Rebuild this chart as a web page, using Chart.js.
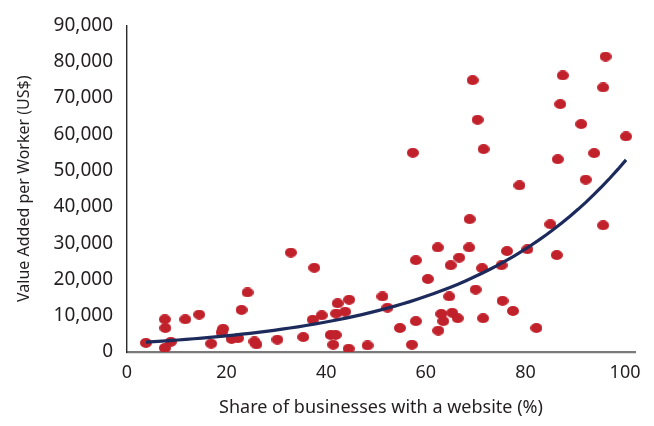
<!DOCTYPE html>
<html>
<head>
<meta charset="utf-8">
<script src="https://cdn.jsdelivr.net/npm/chart.js@4/dist/chart.umd.min.js"></script>
<style>
  html, body { margin: 0; padding: 0; background: #ffffff; }
  #wrap { width: 654px; height: 426px; position: relative; }
</style>
</head>
<body>
<div id="wrap"><canvas id="c" width="654" height="426"></canvas></div>
<script>
// Share of businesses with a website (%)
const websiteShare = [
  3.8, 7.6, 7.7, 7.6, 8.8, 11.7, 14.5, 16.9, 19.3, 19.0,
  21.0, 22.3, 23.0, 24.2, 25.6, 26.0, 30.2, 32.9, 35.4, 37.6,
  37.3, 39.1, 40.9, 41.9, 41.4, 44.5, 48.3, 42.0, 43.8, 42.3,
  44.6, 51.3, 52.3, 54.8, 57.2, 58.0, 57.4, 58.0, 60.4, 62.4,
  62.5, 63.1, 63.5, 64.7, 65.0, 65.3, 66.4, 66.7, 68.7, 68.8,
  69.4, 70.0, 70.4, 71.3, 71.5, 71.6, 75.2, 75.4, 76.3, 77.5,
  78.8, 80.4, 82.2, 85.0, 86.3, 86.5, 87.0, 87.5, 91.2, 92.1,
  93.8, 95.6, 95.6, 96.1, 100.2
];
// Value added per worker (US$)
const valueAdded = [
  2500, 9000, 6600, 1100, 2800, 9000, 10300, 2300, 6400, 5400,
  3600, 3800, 11600, 16400, 2900, 2100, 3400, 27400, 4100, 23200,
  8900, 10100, 4700, 4700, 2000, 900, 1800, 10600, 11100, 13400,
  14400, 15300, 12200, 6600, 2000, 8500, 54900, 25300, 20100, 28800,
  5900, 10500, 8500, 15300, 23900, 10800, 9300, 26000, 28800, 36600,
  74900, 17200, 64000, 23100, 9300, 55900, 23900, 14100, 27800, 11300,
  45900, 28300, 6600, 35200, 26700, 53100, 68300, 76200, 62800, 47500,
  54800, 72900, 34900, 81400, 59400
];
const xTickLabels = [0, 20, 40, 60, 80, 100];
const yTickLabels = [0, 10000, 20000, 30000, 40000, 50000, 60000, 70000, 80000, 90000];

// Exponential trendline (least squares on ln y), as a spreadsheet computes it
const n = websiteShare.length;
let sx = 0, sy = 0, sxx = 0, sxy = 0;
for (let i = 0; i < n; i++) {
  const x = websiteShare[i], ly = Math.log(valueAdded[i]);
  sx += x; sy += ly; sxx += x * x; sxy += x * ly;
}
const b = (n * sxy - sx * sy) / (n * sxx - sx * sx);
const a = Math.exp((sy - b * sx) / n);
const xMin = Math.min(...websiteShare), xMax = Math.max(...websiteShare);
const trend = [];
for (let k = 0; k <= 60; k++) {
  const x = xMin + (xMax - xMin) * k / 60;
  trend.push({ x: x, y: a * Math.exp(b * x) });
}

const scatterPts = websiteShare.map((x, i) => ({ x: x, y: valueAdded[i] }));

// elliptical marker
const dot = document.createElement('canvas');
dot.width = 12; dot.height = 10;
(function () {
  const g = dot.getContext('2d');
  g.fillStyle = '#C1212B';
  g.beginPath();
  g.ellipse(6, 5, 6, 4.9, 0, 0, Math.PI * 2);
  g.fill();
})();

const textColor = '#231F20';
const fontFam = '"Noto Sans", "Open Sans", sans-serif';

new Chart(document.getElementById('c'), {
  data: {
    datasets: [
      {
        type: 'scatter',
        data: scatterPts,
        pointStyle: dot,
        pointRadius: 6,
        backgroundColor: '#C1212B',
        borderColor: '#C1212B',
        order: 2
      },
      {
        type: 'line',
        data: trend,
        borderColor: '#1C2A5C',
        borderWidth: 3.2,
        pointRadius: 0,
        tension: 0,
        fill: false,
        order: 1
      }
    ]
  },
  options: {
    responsive: false,
    animation: false,
    plugins: { legend: { display: false }, tooltip: { enabled: false } },
    layout: { padding: { top: 14, right: 19, left: 0, bottom: 0 } },
    scales: {
      x: {
        type: 'linear',
        min: 0,
        max: 102,
        afterBuildTicks: (s) => { s.ticks = xTickLabels.map(v => ({ value: v })); },
        afterFit: (s) => { s.height = 74; },
        grid: { display: false, drawTicks: false },
        border: { display: true, color: '#7A7A7A', width: 2.2 },
        ticks: {
          padding: 10,
          color: textColor,
          font: { family: fontFam, size: 18 },
          maxRotation: 0
        },
        title: {
          display: true,
          text: 'Share of businesses with a website (%)',
          color: textColor,
          font: { family: fontFam, size: 18 },
          padding: { top: 0, bottom: 7 }
        }
      },
      y: {
        type: 'linear',
        min: 0,
        max: 90000,
        afterBuildTicks: (s) => { s.ticks = yTickLabels.map(v => ({ value: v })); },
        afterFit: (s) => { s.width = 127; },
        grid: { display: false, drawTicks: false },
        border: { display: true, color: '#2A2A2A', width: 1.4 },
        ticks: {
          padding: 14,
          color: textColor,
          font: { family: fontFam, size: 19 },
          callback: (v) => Number(v).toLocaleString('en-US')
        },
        title: {
          display: true,
          text: 'Value Added per Worker (US$)',
          color: textColor,
          font: { family: fontFam, size: 16 },
          padding: { top: 15, bottom: 0 }
        }
      }
    }
  }
});
</script>
</body>
</html>
